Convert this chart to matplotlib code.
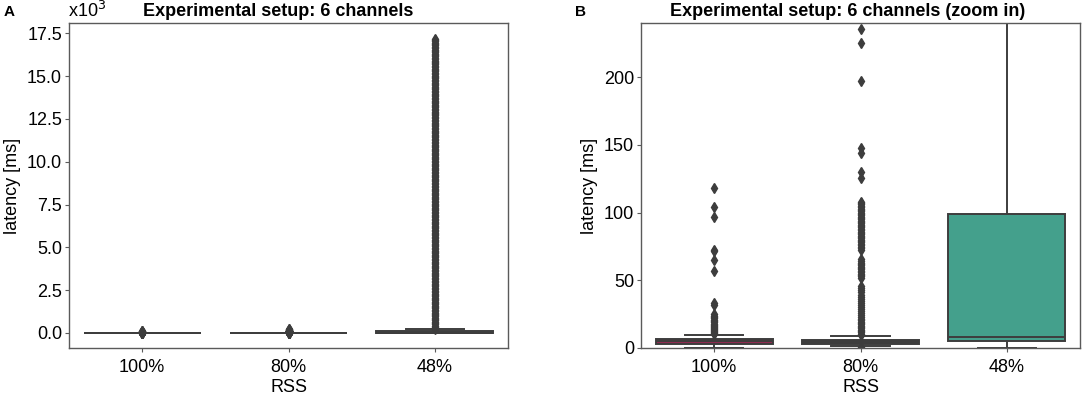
import matplotlib
matplotlib.use("Agg")
import matplotlib.pyplot as plt
from matplotlib.ticker import FuncFormatter

plt.rcParams['font.family'] = ['Liberation Sans', 'DejaVu Sans']

# categories and box summaries (latency in ms)
categories = ["100%", "80%", "48%"]
q1 = [3.0, 3.0, 5.5]
med = [5.0, 4.5, 8.0]
q3 = [7.0, 6.0, 99.0]
whis_lo = [0.3, 1.5, 0.2]
whis_hi = [9.5, 8.7, 240.0]
box_colors = ["#8e2a50", "#4a4a55", "#44a08c"]

fliers_100 = [10.5, 11, 11.8, 12.5, 13, 13.8, 14.5, 15.2, 16, 17, 18, 19, 20,
              21, 22, 23, 24, 25, 31.5, 33, 57, 65, 71.5, 72.5, 97, 104, 118]
fliers_80 = [0.5, 9.5, 10.5, 11.5, 12.5, 13.5, 14.5, 15.5, 16.5, 17.5, 18.5, 19.5,
             20.5, 21.5, 23, 24.5, 26, 27.5, 29, 30.5, 32, 33.5, 35, 36.5, 38,
             39.5, 41, 42.5, 44, 45.5, 52, 53, 54, 55, 56, 57, 58, 59, 60, 61,
             62, 63, 64, 65.5, 72.5, 73.5, 74.5, 76, 77, 78, 79, 80, 81, 82,
             83, 84, 85, 86, 87, 88, 89, 90, 91, 92, 93, 94, 95, 96, 97, 98, 99,
             100, 101, 102, 103, 104, 105, 106, 107, 108, 125.5, 130, 144, 148,
             197, 225, 235.5]
fliers_48 = [245, 300, 360, 420, 500, 580, 650, 730, 800, 880, 960, 1030, 1100,
             1180, 1260, 1350, 1430, 1510, 1600, 1680, 1750, 1820, 1900, 1980,
             2050, 2130, 2210, 2300, 2380, 2460, 2560, 2640, 2720, 2800, 2880,
             2960, 3050, 3130, 3210, 3300, 3380, 3450, 3520, 3600, 3690, 3780,
             3860, 3930, 4000, 4080, 4160, 4250, 4330, 4410, 4500, 4580, 4650,
             4730, 4810, 4900, 4980, 5060, 5130, 5200, 5290, 5370, 5450, 5530,
             5620, 5700, 5780, 5860, 5950, 6030, 6100, 6180, 6260, 6340, 6420,
             6500, 6590, 6680, 6760, 6830, 6900, 6980, 7070, 7150, 7230, 7310,
             7400, 7480, 7550, 7630, 7710, 7800, 7880, 7960, 8040, 8120, 8200,
             8270, 8350, 8430, 8520, 8600, 8680, 8760, 8850, 8930, 9000, 9080,
             9160, 9240, 9320, 9400, 9490, 9570, 9650, 9720, 9800, 9880, 9960,
             10050, 10130, 10210, 10300, 10380, 10450, 10520, 10600, 10690,
             10770, 10850, 10920, 11000, 11080, 11170, 11250, 11330, 11420,
             11500, 11580, 11650, 11730, 11810, 11900, 11980, 12060, 12130,
             12200, 12280, 12370, 12450, 12530, 12620, 12700, 12780, 12850,
             12930, 13010, 13100, 13180, 13260, 13340, 13420, 13500, 13570,
             13650, 13730, 13820, 13900, 13980, 14070, 14150, 14230, 14300,
             14380, 14460, 14540, 14620, 14700, 14790, 14870, 14950, 15020,
             15100, 15180, 15270, 15350, 15430, 15520, 15600, 15680, 15750,
             15820, 15900, 15990, 16080, 16160, 16230, 16300, 16380, 16470,
             16550, 16630, 16720, 16800, 16880, 16960, 17050, 17100, 17150]
fliers = [fliers_100, fliers_80, fliers_48]

line_col = "#3d3d3d"
frame_col = "#5a5a5a"

W, H = 1084, 398
fig = plt.figure(figsize=(W / 100, H / 100), dpi=100)
axA = fig.add_axes([69 / W, 1 - 348 / H, 439 / W, 325 / H])
axB = fig.add_axes([641 / W, 1 - 348 / H, 439 / W, 325 / H])

stats = []
for i in range(len(categories)):
    stats.append(dict(q1=q1[i], med=med[i], q3=q3[i], whislo=whis_lo[i],
                      whishi=whis_hi[i], fliers=fliers[i], label=categories[i]))


def draw(ax):
    bp = ax.bxp(stats, positions=range(len(categories)), widths=0.8,
                patch_artist=True, showfliers=True,
                boxprops=dict(edgecolor=line_col, linewidth=1.4),
                whiskerprops=dict(color=line_col, linewidth=1.4),
                capprops=dict(color=line_col, linewidth=1.4),
                medianprops=dict(color=line_col, linewidth=1.4),
                flierprops=dict(marker='d', markersize=5.5, markerfacecolor=line_col,
                                markeredgecolor=line_col, linestyle='none'))
    for patch, c in zip(bp['boxes'], box_colors):
        patch.set_facecolor(c)
    ax.set_xlim(-0.5, 2.5)
    ax.set_xticks(range(len(categories)))
    ax.set_xticklabels(categories)
    ax.set_xlabel("RSS", fontsize=13, labelpad=2)
    ax.set_ylabel("latency [ms]", fontsize=13, labelpad=4)
    ax.tick_params(labelsize=13, length=3, width=0.8, color=frame_col, pad=2)
    ax.tick_params(axis='x', pad=5)
    for s in ax.spines.values():
        s.set_color(frame_col)
        s.set_linewidth(1.0)


draw(axA)
axA.set_ylim(-880, 18100)
axA.set_yticks([0, 2500, 5000, 7500, 10000, 12500, 15000, 17500])
axA.yaxis.set_major_formatter(FuncFormatter(lambda v, p: f"{v / 1000:.1f}"))
axA.set_title("Experimental setup: 6 channels", fontsize=13, fontweight='bold',
              x=0.477, pad=5)

draw(axB)
axB.set_ylim(0, 240)
axB.set_yticks([0, 50, 100, 150, 200])
axB.set_title("Experimental setup: 6 channels (zoom in)", fontsize=13,
              fontweight='bold', x=0.47, pad=5)

fig.text(68 / W, 1 - 17 / H, "x10$^3$", fontsize=13, ha='left', va='baseline')
fig.text(4 / W, 1 - 16 / H, "A", fontsize=11, fontweight='bold', va='baseline')
fig.text(575 / W, 1 - 16 / H, "B", fontsize=11, fontweight='bold', va='baseline')

fig.savefig("out.png", dpi=100)
